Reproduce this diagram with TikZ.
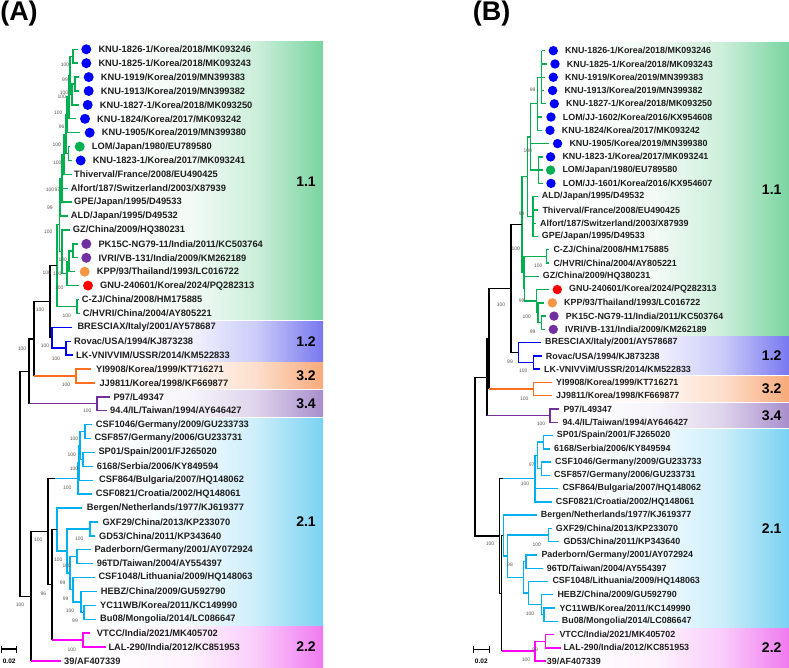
\documentclass[tikz,border=0pt]{standalone}
\usepackage{fontspec}
\setmainfont{Liberation Sans}

% branch colours
\definecolor{tgreen}{RGB}{0,176,80}
\definecolor{tblue}{RGB}{0,0,255}
\definecolor{torange}{RGB}{255,110,30}
\definecolor{tpurple}{RGB}{112,48,160}
\definecolor{tcyan}{RGB}{0,176,240}
\definecolor{tmag}{RGB}{255,0,255}
% marker colours
\definecolor{cdb}{RGB}{0,0,255}
\definecolor{cdg}{RGB}{0,176,80}
\definecolor{cdp}{RGB}{112,48,160}
\definecolor{cdo}{RGB}{247,150,70}
\definecolor{cdr}{RGB}{255,0,0}
% genotype band colours
\definecolor{bx11}{RGB}{122,212,160}
\definecolor{bx12}{RGB}{120,120,240}
\definecolor{bx32}{RGB}{248,170,122}
\definecolor{bx34}{RGB}{168,142,204}
\definecolor{bx21}{RGB}{122,210,242}
\definecolor{bx22}{RGB}{240,122,240}
\definecolor{bsval}{RGB}{95,85,75}

\newcommand\bandshade[2]{\pgfdeclarehorizontalshading{#1}{100bp}{color(0bp)=(white); color(25bp)=(white); color(45bp)=(#2!9); color(60bp)=(#2!38); color(75bp)=(#2); color(100bp)=(#2)}}
\bandshade{sh11}{bx11}
\bandshade{sh12}{bx12}
\bandshade{sh32}{bx32}
\bandshade{sh34}{bx34}
\bandshade{sh21}{bx21}
\bandshade{sh22}{bx22}

% rectangular clade: style, node x, child 1 (x,row), child 2 (x,row)
\newcommand\clade[6]{\draw[#1] (#3,#4) -- (#2,#4) -- (#2,#6) -- (#5,#6);}
\newcommand\twig[4]{\draw[#1] (#2,#3) -- (#4,#3);}

\begin{document}
\begin{tikzpicture}[x=1pt,y=-1pt,
    trk/.style={draw=black, line width=1.5pt},
    trg/.style={draw=tgreen, line width=1.4pt},
    trb/.style={draw=tblue, line width=1.4pt},
    tro/.style={draw=torange, line width=1.4pt},
    trp/.style={draw=tpurple, line width=1.4pt},
    trc/.style={draw=tcyan, line width=1.4pt},
    trm/.style={draw=tmag, line width=1.4pt},
    leafA/.style={anchor=west, inner sep=0pt, text=black!88, font=\bfseries\fontsize{9.3}{10}\selectfont},
    leafB/.style={anchor=west, inner sep=0pt, text=black!88, font=\bfseries\fontsize{8.9}{10}\selectfont},
    bs/.style={inner sep=0pt, text=bsval, font=\fontsize{5}{5}\selectfont},
    grp/.style={inner sep=0pt, font=\bfseries\fontsize{14}{14}\selectfont},
    ttl/.style={inner sep=0pt, font=\bfseries\fontsize{27}{27}\selectfont}]
  \useasboundingbox (0,0) rectangle (789,668);

  \node[ttl] (titleA) at (19,14) {(A)};
  \node[ttl] (titleB) at (491.7,14) {(B)};

  %% ---------------- panel A: rows 13.9px apart ----------------
  \begin{scope}[shift={(0,49.3)}, y=-13.9pt]
    % genotype bands
    \shade[shading=sh11] (100,-0.55) rectangle (323,19.43);
    \shade[shading=sh12] (100,19.55) rectangle (323,22.43);
    \shade[shading=sh32] (100,22.55) rectangle (323,24.43);
    \shade[shading=sh34] (100,24.55) rectangle (323,26.43);
    \shade[shading=sh21] (100,26.55) rectangle (323,41.43);
    \shade[shading=sh22] (100,41.55) rectangle (323,44.45);
    \foreach \rw/\g in {9.5/1.1, 21/1.2, 23.5/3.2, 25.5/3.4, 34/2.1, 43/2.2}
      \node[grp] at (306,\rw) {\g};

    % 1.1
    \clade{trg}{73}{77.7}{0}{77.7}{1}
    \clade{trg}{75}{79.3}{2}{79.3}{3}
    \clade{trg}{72}{75}{2.5}{78.7}{4}
    \clade{trg}{70}{73}{0.5}{72}{3.25}
    \clade{trg}{69}{70}{1.875}{76}{5}
    \clade{trg}{67}{69}{3.4375}{80.3}{6}
    \clade{trg}{68.5}{70.3}{7}{71.7}{8}
    \clade{trg}{66}{67}{4.719}{68.5}{7.5}
    \clade{trg}{64}{66}{6.109}{71.7}{9}
    \clade{trg}{62}{64}{7.555}{71.5}{11}
    \twig{trg}{62}{10}{68}
    \clade{trg}{60}{62}{9.277}{68}{12}
    \clade{trg}{73}{77.7}{14}{77.7}{15}
    \clade{trg}{69}{73}{14.5}{75.3}{16}
    \clade{trg}{67}{69}{15.25}{79.3}{17}
    \clade{trg}{62}{70}{13}{67}{16.125}
    \clade{trg}{59.5}{60}{10.64}{62}{14.5625}
    \clade{trg}{77}{79}{18}{80}{19}
    \clade{trg}{57}{59.5}{12.60}{77}{18.5}
    % 1.2
    \clade{trb}{66}{71}{21}{73}{22}
    \clade{trb}{52}{71.7}{20}{66}{21.5}
    \clade{trk}{50}{57}{15.55}{52}{20.75}
    % 3.2, 3.4
    \clade{tro}{76}{91}{23}{95}{24}
    \clade{trk}{34}{50}{18.15}{34}{23.5}
    \twig{tro}{34}{23.5}{76}
    \clade{trp}{97}{110}{25}{107}{26}
    \clade{trk}{29}{34}{20.825}{29}{25.5}
    \twig{trp}{29}{25.5}{97}
    % 2.1
    \clade{trc}{85}{92}{27}{91}{28}
    \clade{trc}{83}{95}{29}{93}{30}
    \clade{trc}{80}{85}{27.5}{83}{29.5}
    \clade{trc}{79}{80}{28.5}{93}{31}
    \clade{trc}{78}{79}{29.75}{92}{32}
    \clade{trc}{84}{96}{40}{96}{41}
    \clade{trc}{81}{97}{39}{84}{40.5}
    \clade{trc}{73}{95}{38}{81}{39.75}
    \clade{trc}{77}{91}{36}{93}{37}
    \clade{trc}{70}{77}{36.5}{73}{38.875}
    \clade{trc}{90}{98}{34}{95}{35}
    \clade{trc}{67}{90}{34.5}{70}{37.6875}
    \clade{trc}{57}{82}{33}{67}{36.09}
    % 2.2 and root
    \clade{trm}{83}{90}{42}{106}{43}
    \clade{trk}{52}{57}{34.547}{52}{42.5}
    \twig{trm}{52}{42.5}{83}
    \clade{trk}{48}{55}{30.875}{52}{38.52}
    \twig{trc}{55}{30.875}{78}
    \clade{trk}{31}{48}{34.70}{31}{44}
    \twig{trm}{31}{44}{61}
    \clade{trk}{20}{29}{23.1625}{31}{39.35}

    % strains
    \foreach \rw/\x/\dc/\lab in {
      0/98.3/cdb/{KNU-1826-1/Korea/2018/MK093246},
      1/98.3/cdb/{KNU-1825-1/Korea/2018/MK093243},
      2/100.7/cdb/{KNU-1919/Korea/2019/MN399383},
      3/100.7/cdb/{KNU-1913/Korea/2019/MN399382},
      4/99.7/cdb/{KNU-1827-1/Korea/2018/MK093250},
      5/97/cdb/{KNU-1824/Korea/2017/MK093242},
      6/101.7/cdb/{KNU-1905/Korea/2019/MN399380},
      7/91.7/cdg/{LOM/Japan/1980/EU789580},
      8/92.7/cdb/{KNU-1823-1/Korea/2017/MK093241},
      9/74/none/{Thiverval/France/2008/EU490425},
      10/70.7/none/{Alfort/187/Switzerland/2003/X87939},
      11/74/none/{GPE/Japan/1995/D49533},
      12/70.7/none/{ALD/Japan/1995/D49532},
      13/72.7/none/{GZ/China/2009/HQ380231},
      14/98.3/cdp/{PK15C-NG79-11/India/2011/KC503764},
      15/98.3/cdp/{IVRI/VB-131/India/2009/KM262189},
      16/96.7/cdo/{KPP/93/Thailand/1993/LC016722},
      17/100/cdr/{GNU-240601/Korea/2024/PQ282313},
      18/81.7/none/{C-ZJ/China/2008/HM175885},
      19/82.7/none/{C/HVRI/China/2004/AY805221},
      20/77.3/none/{BRESCIAX/Italy/2001/AY578687},
      21/74/none/{Rovac/USA/1994/KJ873238},
      22/76/none/{LK-VNIVVIM/USSR/2014/KM522833},
      23/96/none/{YI9908/Korea/1999/KT716271},
      24/99.3/none/{JJ9811/Korea/1998/KF669877},
      25/113.3/none/{P97/L49347},
      26/110/none/{94.4/IL/Taiwan/1994/AY646427},
      27/95.7/none/{CSF1046/Germany/2009/GU233733},
      28/94.3/none/{CSF857/Germany/2006/GU233731},
      29/98.3/none/{SP01/Spain/2001/FJ265020},
      30/96.7/none/{6168/Serbia/2006/KY849594},
      31/99/none/{CSF864/Bulgaria/2007/HQ148062},
      32/95.7/none/{CSF0821/Croatia/2002/HQ148061},
      33/86.7/none/{Bergen/Netherlands/1977/KJ619377},
      34/102.3/none/{GXF29/China/2013/KP233070},
      35/99/none/{GD53/China/2011/KP343640},
      36/94.3/none/{Paderborn/Germany/2001/AY072924},
      37/96.7/none/{96TD/Taiwan/2004/AY554397},
      38/98.3/none/{CSF1048/Lithuania/2009/HQ148063},
      39/100.7/none/{HEBZ/China/2009/GU592790},
      40/100/none/{YC11WB/Korea/2011/KC149990},
      41/100/none/{Bu08/Mongolia/2014/LC086647},
      42/96.7/none/{VTCC/India/2021/MK405702},
      43/108.3/none/{LAL-290/India/2012/KC851953},
      44/64/none/{39/AF407339}} {
      \path[fill=\dc] ({\x-12},\rw) circle[radius=5pt];
      \node[leafA] (a\rw) at (\x,\rw) {\lab};
    }
  \end{scope}

  %% ---------------- panel B: rows 13.27px apart ----------------
  \begin{scope}[shift={(0,50.7)}, y=-13.27pt]
    \shade[shading=sh11] (565,-0.6) rectangle (789,21.43);
    \shade[shading=sh12] (565,21.55) rectangle (789,24.43);
    \shade[shading=sh32] (565,24.55) rectangle (789,26.43);
    \shade[shading=sh34] (565,26.55) rectangle (789,28.43);
    \shade[shading=sh21] (565,28.55) rectangle (789,43.43);
    \shade[shading=sh22] (565,43.55) rectangle (789,46.5);
    \foreach \rw/\g in {10.5/1.1, 23/1.2, 25.5/3.2, 27.5/3.4, 36/2.1, 45/2.2}
      \node[grp] at (771.7,\rw) {\g};

    % 1.1
    \draw[trg] (541.7,0) -- (541.7,4);
    \foreach \rw/\e in {0/545, 1/546.5, 2/545, 3/544, 4/545.5} {
      \twig{trg}{541.7}{\rw}{\e}
    }
    \clade{trg}{537.7}{541.7}{2}{541.5}{6}
    \twig{trg}{537.7}{5}{542}
    \clade{trg}{538.5}{542.5}{8}{543}{10}
    \twig{trg}{538.5}{9}{542.5}
    \clade{trg}{530.7}{537.7}{4}{538.5}{9}
    \twig{trg}{530.7}{7}{549}
    \clade{trg}{533}{538}{11}{537.7}{14}
    \twig{trg}{533}{12}{538.3}
    \twig{trg}{533}{13}{536}
    \clade{trg}{527.5}{530.7}{6.5}{533}{12.5}
    \clade{trg}{546.7}{549}{15}{549}{16}
    \clade{trg}{541.7}{545.5}{20}{545}{21}
    \clade{trg}{538}{544}{19}{541.7}{20.5}
    \clade{trg}{536.7}{549}{18}{538}{19.75}
    \clade{trg}{524.5}{538.7}{17}{536.7}{18.875}
    \clade{trg}{524}{546.7}{15.5}{524.5}{17.94}
    \clade{trg}{522}{527.5}{9.5}{524}{16.72}
    % 1.2
    \clade{trb}{533.3}{541.7}{23}{540}{24}
    \clade{trb}{518.3}{541}{22}{533.3}{23.5}
    \clade{trk}{511}{522}{13.11}{518.3}{22.75}
    % 3.2, 3.4
    \clade{tro}{533.3}{552}{25}{552}{26}
    \clade{trk}{489}{511}{17.93}{489}{25.5}
    \twig{tro}{489}{25.5}{533.3}
    \clade{trp}{550}{559.3}{27}{558.3}{28}
    \clade{trk}{487}{489}{21.715}{487}{27.5}
    \twig{trp}{487}{27.5}{550}
    % 2.1
    \clade{trc}{543.3}{552.7}{29}{550}{30}
    \clade{trc}{541.7}{551}{31}{550}{32}
    \clade{trc}{537.7}{543.3}{29.5}{541.7}{31.5}
    \clade{trc}{535}{537.7}{30.5}{551.7}{34}
    \twig{trc}{535}{33}{558.3}
    \clade{trc}{544}{555.3}{42}{557.7}{43}
    \clade{trc}{541.7}{553.3}{41}{544}{42.5}
    \clade{trc}{528.3}{548.3}{40}{541.7}{41.75}
    \clade{trc}{526}{537.3}{38}{542.7}{39}
    \clade{trc}{523.3}{526}{38.5}{528.3}{40.875}
    \clade{trc}{548.3}{551.7}{36}{559.3}{37}
    \clade{trc}{507.3}{548.3}{36.5}{523.3}{39.69}
    \clade{trc}{503.3}{536.7}{35}{507.3}{38.09}
    % 2.2 and root
    \clade{trm}{545.7}{554}{44}{560.7}{45}
    \clade{trm}{535}{545.7}{44.5}{545.7}{46}
    \clade{trk}{501.7}{503.3}{36.55}{501.7}{45.25}
    \twig{trm}{501.7}{45.25}{535}
    \clade{trk}{499.3}{503}{32.25}{501.7}{40.9}
    \twig{trc}{503}{32.25}{535}
    \clade{trk}{475}{487}{24.61}{499.3}{36.575}

    % strains
    \foreach \rw/\x/\dc/\lab in {
      0/565/cdb/{KNU-1826-1/Korea/2018/MK093246},
      1/566.7/cdb/{KNU-1825-1/Korea/2018/MK093243},
      2/565/cdb/{KNU-1919/Korea/2019/MN399383},
      3/564.3/cdb/{KNU-1913/Korea/2019/MN399382},
      4/566/cdb/{KNU-1827-1/Korea/2018/MK093250},
      5/562.7/cdb/{LOM/JJ-1602/Korea/2016/KX954608},
      6/561.7/cdb/{KNU-1824/Korea/2017/MK093242},
      7/569.3/cdb/{KNU-1905/Korea/2019/MN399380},
      8/562.3/cdb/{KNU-1823-1/Korea/2017/MK093241},
      9/562.3/cdg/{LOM/Japan/1980/EU789580},
      10/562.7/cdb/{LOM/JJ-1601/Korea/2016/KX954607},
      11/541.7/none/{ALD/Japan/1995/D49532},
      12/542.3/none/{Thiverval/France/2008/EU490425},
      13/540/none/{Alfort/187/Switzerland/2003/X87939},
      14/541.7/none/{GPE/Japan/1995/D49533},
      15/553.3/none/{C-ZJ/China/2008/HM175885},
      16/553.3/none/{C/HVRI/China/2004/AY805221},
      17/542.7/none/{GZ/China/2009/HQ380231},
      18/569/cdr/{GNU-240601/Korea/2024/PQ282313},
      19/564/cdo/{KPP/93/Thailand/1993/LC016722},
      20/565.7/cdp/{PK15C-NG79-11/India/2011/KC503764},
      21/565/cdp/{IVRI/VB-131/India/2009/KM262189},
      22/545/none/{BRESCIAX/Italy/2001/AY578687},
      23/545.7/none/{Rovac/USA/1994/KJ873238},
      24/544/none/{LK-VNIVViM/USSR/2014/KM522833},
      25/556/none/{YI9908/Korea/1999/KT716271},
      26/556/none/{JJ9811/Korea/1998/KF669877},
      27/563.3/none/{P97/L49347},
      28/562.3/none/{94.4/IL/Taiwan/1994/AY646427},
      29/556.7/none/{SP01/Spain/2001/FJ265020},
      30/554/none/{6168/Serbia/2006/KY849594},
      31/555/none/{CSF1046/Germany/2009/GU233733},
      32/554/none/{CSF857/Germany/2006/GU233731},
      33/562.3/none/{CSF864/Bulgaria/2007/HQ148062},
      34/555.7/none/{CSF0821/Croatia/2002/HQ148061},
      35/540.7/none/{Bergen/Netherlands/1977/KJ619377},
      36/555.7/none/{GXF29/China/2013/KP233070},
      37/563.3/none/{GD53/China/2011/KP343640},
      38/541.3/none/{Paderborn/Germany/2001/AY072924},
      39/546.7/none/{96TD/Taiwan/2004/AY554397},
      40/552.3/none/{CSF1048/Lithuania/2009/HQ148063},
      41/557.3/none/{HEBZ/China/2009/GU592790},
      42/559.3/none/{YC11WB/Korea/2011/KC149990},
      43/561.7/none/{Bu08/Mongolia/2014/LC086647},
      44/559.3/none/{VTCC/India/2021/MK405702},
      45/563.3/none/{LAL-290/India/2012/KC851953},
      46/546.7/none/{39/AF407339}} {
      \path[fill=\dc] ({\x-11.7},\rw) circle[radius=4.7pt];
      \node[leafB] (b\rw) at (\x,\rw) {\lab};
    }
  \end{scope}

  % bootstrap values, panel A
  \foreach \x/\y/\v in {65/65/100, 65/80/99, 64/92.7/100, 61.7/96.7/100,
      58.3/112.7/100, 61.7/126.7/96, 56.7/144.3/100, 57.3/162.3/100,
      50/189.3/100, 57.3/189.3/97, 50/207.3/99, 48.3/231.7/100,
      62.7/260/100, 46.7/272.7/100, 57.3/273.3/100, 59.3/287.7/100,
      40/309.3/100, 66.7/315.7/100, 22/348.3/100, 45/346/100,
      56/358.3/100, 66/385/100, 87.3/411/100, 74/438.3/100,
      71.7/455/100, 74/468.7/100, 67.3/487.7/100, 79.3/538.3/100,
      38.3/539.3/100, 58.3/559.3/100, 66.7/565.7/100, 62.7/582.3/99,
      65.7/598.3/99, 70/610.7/100, 75/621/99, 43.3/593.3/96,
      20/605/100, 71.7/649.3/100} {
    \node[bs] at (\x,\y) {\v};
  }
  % bootstrap values, panel B
  \foreach \x/\y/\v in {532.7/89.3/98, 527.7/150.7/100, 521.7/213.3/99,
      515.7/249/100, 538.3/265.7/100, 501/305/100, 521.7/301/99,
      526.7/316.7/100, 532.7/331.7/99, 510/361.7/99, 523.3/371/100,
      524.3/398.3/100, 541/424/100, 531.7/464.3/97, 525/484/100,
      536.7/544.3/100, 490/543.3/100, 510/565/98, 530/613.3/100,
      535/649.3/99, 526/660/100} {
    \node[bs] at (\x,\y) {\v};
  }

  % scale bars
  \coordinate (sA1) at (1.7,649);
  \coordinate (sA2) at (16.7,649);
  \draw[line width=1.1pt] (sA1) -- (sA2);
  \draw[line width=1.1pt] ([yshift=3.5pt]sA1) -- ([yshift=-3.5pt]sA1);
  \draw[line width=1.1pt] ([yshift=3.5pt]sA2) -- ([yshift=-3.5pt]sA2);
  \node[font=\bfseries\fontsize{6.5}{7}\selectfont, inner sep=0pt] (scA) at (9.2,661) {0.02};
  \coordinate (sB1) at (473.3,649.3);
  \coordinate (sB2) at (489.3,649.3);
  \draw[line width=1.1pt] (sB1) -- (sB2);
  \draw[line width=1.1pt] ([yshift=3.5pt]sB1) -- ([yshift=-3.5pt]sB1);
  \draw[line width=1.1pt] ([yshift=3.5pt]sB2) -- ([yshift=-3.5pt]sB2);
  \node[font=\bfseries\fontsize{6.5}{7}\selectfont, inner sep=0pt] (scB) at (481.3,661) {0.02};
\end{tikzpicture}
\end{document}
